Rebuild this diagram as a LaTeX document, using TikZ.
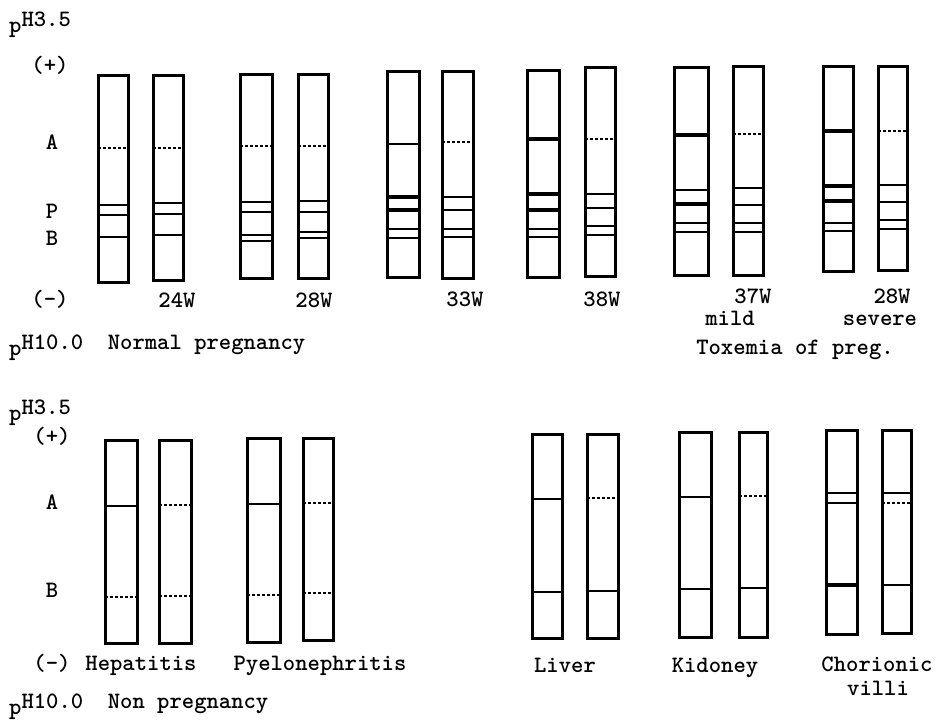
\documentclass[tikz,border=0pt]{standalone}
\usepackage{fontspec}
\usetikzlibrary{positioning}
\tikzset{
  stripbox/.style={draw, line width=3pt},
  band/.style={line width=2.2pt},
  heavy/.style={line width=4.2pt},
  dots/.style={line width=2pt, dash pattern=on 2.5pt off 2.5pt},
  lbl/.style={font=\ttfamily\bfseries\fontsize{23.5}{26}\selectfont, inner sep=0pt, anchor=base},
}
\newcommand{\phlab}[1]{\raisebox{-6pt}{p}H#1}

\begin{document}
\begin{tikzpicture}[x=1pt, y=-1pt]
    \useasboundingbox (0,0) rectangle (938,727);

    % ---- upper panel: pregnancy sera ----
    \node[lbl, anchor=base west] (ph35a) at (9,27) {\phlab{3.5}};
    \node[lbl] (plusa) at (50,73) {(+)};
    \node[lbl] (Aa) at (52,150) {A};
    \node[lbl] (Pa) at (52,219) {P};
    \node[lbl] (Ba) at (52,246) {B};
    \node[lbl] (minusa) at (50,307) {(-)};

    % 24W
    \foreach \y/\s in {148/dots,205/band,215/band,237/band} \draw[\s] (98,\y) -- (128,\y);
    \draw[stripbox] (98,76) rectangle (128,283);
    \foreach \y/\s in {148/dots,203/band,214/band,235/band} \draw[\s] (153,\y) -- (183,\y);
    \draw[stripbox] (153,76) rectangle (183,281);
    \node[lbl] (w24) at (177,308) {24W};

    % 28W
    \foreach \y/\s in {146/dots,202/band,212/band,235/band,241/band} \draw[\s] (240,\y) -- (272,\y);
    \draw[stripbox] (240,75) rectangle (272,279);
    \foreach \y/\s in {146/dots,201/band,212/band,232/band,238/band} \draw[\s] (298,\y) -- (328,\y);
    \draw[stripbox] (298,75) rectangle (328,279);
    \node[lbl] (w28) at (314,308) {28W};

    % 33W
    \foreach \y/\s in {144/band,197/heavy,210/heavy,229/band,238/band} \draw[\s] (387,\y) -- (419,\y);
    \draw[stripbox] (387,72) rectangle (419,278);
    \foreach \y/\s in {142/dots,197/band,210/band,229/band,237/band} \draw[\s] (442,\y) -- (473,\y);
    \draw[stripbox] (442,72) rectangle (473,279);
    \node[lbl] (w33) at (465,307) {33W};

    % 38W
    \foreach \y/\s in {139/heavy,194/heavy,210/heavy,229/band,237/band} \draw[\s] (527,\y) -- (559,\y);
    \draw[stripbox] (527,71) rectangle (559,278);
    \foreach \y/\s in {139/dots,194/band,208/band,226/band,235/band} \draw[\s] (585,\y) -- (615,\y);
    \draw[stripbox] (585,68) rectangle (615,277);
    \node[lbl] (w38) at (602,307) {38W};

    % 37W mild
    \foreach \y/\s in {135/heavy,190/band,204/heavy,223/band,232/band} \draw[\s] (674,\y) -- (708,\y);
    \draw[stripbox] (674,68) rectangle (708,276);
    \foreach \y/\s in {134/dots,188/band,205/band,223/band,232/band} \draw[\s] (733,\y) -- (763,\y);
    \draw[stripbox] (733,67) rectangle (763,276);
    \node[lbl] (w37) at (753,304) {37W};
    \node[lbl] (mild) at (730,326) {mild};

    % 28W severe
    \foreach \y/\s in {131/heavy,186/heavy,201/heavy,223/band,231/band} \draw[\s] (823,\y) -- (853,\y);
    \draw[stripbox] (823,67) rectangle (853,272);
    \foreach \y/\s in {131/dots,185/band,202/band,220/band,229/band} \draw[\s] (878,\y) -- (907,\y);
    \draw[stripbox] (878,67) rectangle (907,271);
    \node[lbl] (w28s) at (892,304) {28W};
    \node[lbl] (severe) at (880,326) {severe};

    \node[lbl, anchor=base west] (ph10a) at (9,350) {\phlab{10.0}~~Normal pregnancy};
    \node[lbl] (toxemia) at (795,355) {Toxemia of preg.};

    % ---- lower panel: non pregnancy and tissues ----
    \node[lbl, anchor=base west] (ph35b) at (9,415) {\phlab{3.5}};
    \node[lbl] (plusb) at (52,444) {(+)};
    \node[lbl] (Ab) at (52,510) {A};
    \node[lbl] (Bb) at (52,597) {B};

    % Hepatitis
    \foreach \y/\s in {506/band,597/dots} \draw[\s] (105,\y) -- (137,\y);
    \draw[stripbox] (105,441) rectangle (137,643);
    \foreach \y/\s in {505/dots,596/dots} \draw[\s] (159,\y) -- (191,\y);
    \draw[stripbox] (159,441) rectangle (191,643);
    \node[lbl] (minusb) at (52,670) {(-)};
    \node[lbl] (hepat) at (141,670) {Hepatitis};

    % Pyelonephritis
    \foreach \y/\s in {504/band,595/dots} \draw[\s] (247,\y) -- (280,\y);
    \draw[stripbox] (247,439) rectangle (280,642);
    \foreach \y/\s in {503/dots,593/dots} \draw[\s] (303,\y) -- (333,\y);
    \draw[stripbox] (303,439) rectangle (333,640);
    \node[lbl] (pyelo) at (320,670) {Pyelonephritis};

    % Liver
    \foreach \y/\s in {499/band,592/band} \draw[\s] (532,\y) -- (562,\y);
    \draw[stripbox] (532,435) rectangle (562,638);
    \foreach \y/\s in {498/dots,591/band} \draw[\s] (587,\y) -- (618,\y);
    \draw[stripbox] (587,435) rectangle (618,638);
    \node[lbl] (liver) at (565,672) {Liver};

    % Kidoney
    \foreach \y/\s in {497/band,589/band} \draw[\s] (679,\y) -- (711,\y);
    \draw[stripbox] (679,433) rectangle (711,637);
    \foreach \y/\s in {496/dots,588/band} \draw[\s] (739,\y) -- (767,\y);
    \draw[stripbox] (739,433) rectangle (767,637);
    \node[lbl] (kidney) at (715,672) {Kidoney};

    % Chorionic villi
    \foreach \y/\s in {493/band,503/band,585/heavy} \draw[\s] (826,\y) -- (857,\y);
    \draw[stripbox] (826,431) rectangle (857,634);
    \foreach \y/\s in {493/band,503/dots,585/band} \draw[\s] (882,\y) -- (911,\y);
    \draw[stripbox] (882,431) rectangle (911,633);
    \node[lbl] (chorion) at (877,671) {Chorionic};
    \node[lbl] (villi) at (878,695) {villi};

    \node[lbl, anchor=base west] (ph10b) at (9,708) {\phlab{10.0}~~Non pregnancy};
\end{tikzpicture}
\end{document}
